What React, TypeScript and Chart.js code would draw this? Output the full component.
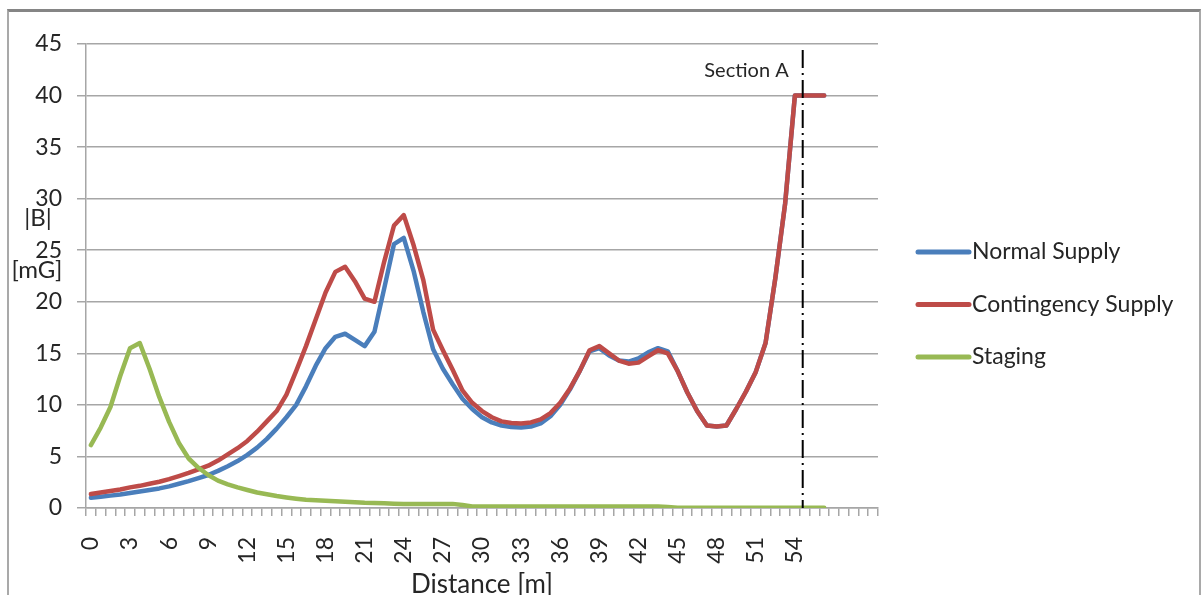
import React, { useEffect, useRef } from 'react';
import { Chart, registerables } from 'chart.js';

Chart.register(...registerables);

// ---- data ----
const distances = [
  0, 0.75, 1.5, 2.25, 3, 3.75, 4.5, 5.25, 6, 6.75, 7.5, 8.25, 9, 9.75, 10.5, 11.25,
  12, 12.75, 13.5, 14.25, 15, 15.75, 16.5, 17.25, 18, 18.75, 19.5, 20.25, 21, 21.75,
  22.5, 23.25, 24, 24.75, 25.5, 26.25, 27, 27.75, 28.5, 29.25, 30, 30.75, 31.5, 32.25,
  33, 33.75, 34.5, 35.25, 36, 36.75, 37.5, 38.25, 39, 39.75, 40.5, 41.25, 42, 42.75,
  43.5, 44.25, 45, 45.75, 46.5, 47.25, 48, 48.75, 49.5, 50.25, 51, 51.75, 52.5, 53.25,
  54, 54.75, 55.5, 56.25,
];
// empty category slots at the end of the axis (no data, no label)
const axisTailLabels = ['', '', '', '', ''];

const normalSupply = [
  1.0, 1.1, 1.2, 1.3, 1.45, 1.6, 1.75, 1.9, 2.1, 2.35, 2.6, 2.9, 3.2, 3.6, 4.05, 4.55, 5.15, 5.85, 6.7, 7.7,
  8.8, 10.0, 11.8, 13.8, 15.5, 16.6, 16.9, 16.3, 15.7, 17.1, 21.3, 25.6, 26.2, 23.0, 19.0, 15.4, 13.5, 12.0, 10.6, 9.6,
  8.8, 8.3, 8.0, 7.85, 7.8, 7.9, 8.2, 8.9, 10.0, 11.5, 13.3, 15.2, 15.5, 14.8, 14.3, 14.2, 14.5, 15.1, 15.5, 15.2,
  13.3, 11.2, 9.4, 8.0, 7.9, 8.0, 9.6, 11.3, 13.2, 16.0, 22.3, 29.5, 40, 40, 40, 40,
];

const contingencySupply = [
  1.35, 1.5, 1.65, 1.8, 2.0, 2.15, 2.35, 2.55, 2.8, 3.1, 3.4, 3.75, 4.1, 4.6, 5.2, 5.8, 6.5, 7.4, 8.4, 9.4,
  11.0, 13.3, 15.7, 18.3, 20.9, 22.9, 23.4, 22.0, 20.3, 20.0, 23.9, 27.4, 28.4, 25.5, 22.1, 17.3, 15.3, 13.4, 11.4, 10.2,
  9.4, 8.8, 8.4, 8.25, 8.2, 8.3, 8.6, 9.2, 10.2, 11.6, 13.3, 15.3, 15.7, 15.0, 14.3, 14.0, 14.1, 14.7, 15.3, 15.0,
  13.3, 11.2, 9.4, 8.0, 7.9, 8.0, 9.6, 11.3, 13.2, 16.0, 22.3, 29.5, 40, 40, 40, 40,
];

const staging = [
  6.1, 7.8, 9.8, 12.8, 15.5, 16.0, 13.5, 10.75, 8.35, 6.3, 4.8, 3.9, 3.2, 2.65, 2.3, 2.0, 1.75, 1.5, 1.33, 1.16,
  1.02, 0.9, 0.8, 0.75, 0.7, 0.65, 0.6, 0.55, 0.5, 0.48, 0.45, 0.42, 0.4, 0.4, 0.4, 0.4, 0.4, 0.4, 0.3, 0.15,
  0.15, 0.15, 0.15, 0.15, 0.15, 0.15, 0.15, 0.15, 0.15, 0.15, 0.15, 0.15, 0.15, 0.15, 0.15, 0.15, 0.15, 0.15, 0.15, 0.1,
  0.03, 0.03, 0.03, 0.03, 0.03, 0.03, 0.03, 0.03, 0.03, 0.03, 0.03, 0.03, 0.03, 0.03, 0.03, 0.03,
];

const seriesNames = ['Normal Supply', 'Contingency Supply', 'Staging'];
const seriesColors = ['#4a7ebb', '#be4b48', '#98b954'];
const yMin = 0;
const yMax = 45;
const yStep = 5;
const xLabelEvery = 3; // metres between shown tick labels
const xLabelMax = 54;
const xTitle = 'Distance [m]';
const yTitleLines = ['|B|', '[mG]'];
const sectionALabel = 'Section A';
const sectionADistance = 54.6;

// ---- style ----
const FONT = 'Lato, "Open Sans", "DejaVu Sans", sans-serif';
const TEXT = '#262626';
const GRID = '#a6a6a6';

const categoryLabels = [...distances.map((d) => String(d)), ...axisTailLabels];

function pixelForDistance(xScale: any, d: number): number {
  let i = 0;
  while (i < distances.length - 2 && distances[i + 1] <= d) i++;
  const p0 = xScale.getPixelForValue(i);
  const p1 = xScale.getPixelForValue(i + 1);
  return p0 + ((d - distances[i]) / (distances[i + 1] - distances[i])) * (p1 - p0);
}

const overlayPlugin = {
  id: 'overlay',
  afterDatasetsDraw(chart: any) {
    const { ctx, chartArea, scales } = chart;
    const x = pixelForDistance(scales.x, sectionADistance);
    ctx.save();
    ctx.strokeStyle = '#000';
    ctx.lineWidth = 2;
    ctx.setLineDash([18, 5, 2, 5]);
    ctx.beginPath();
    ctx.moveTo(x, chartArea.top + 6);
    ctx.lineTo(x, chartArea.bottom);
    ctx.stroke();
    ctx.setLineDash([]);
    ctx.fillStyle = TEXT;
    ctx.font = `20px ${FONT}`;
    ctx.textAlign = 'right';
    ctx.textBaseline = 'middle';
    ctx.fillText(sectionALabel, x - 14, chartArea.top + 27);
    ctx.restore();
  },
  afterDraw(chart: any) {
    const { ctx, chartArea } = chart;
    ctx.save();
    // y-axis title (horizontal, two lines)
    ctx.fillStyle = TEXT;
    ctx.font = `24px ${FONT}`;
    ctx.textAlign = 'center';
    ctx.textBaseline = 'middle';
    ctx.fillText(yTitleLines[0], chartArea.left - 48, 218);
    ctx.fillText(yTitleLines[1], chartArea.left - 49, 270);
    // legend
    const lx0 = chartArea.right + 40;
    const lx1 = chartArea.right + 91;
    const rowY0 = 252;
    const rowGap = 52.5;
    ctx.font = `23px ${FONT}`;
    ctx.textAlign = 'left';
    ctx.lineCap = 'round';
    seriesNames.forEach((name, i) => {
      const y = rowY0 + i * rowGap;
      ctx.strokeStyle = seriesColors[i];
      ctx.lineWidth = 5;
      ctx.beginPath();
      ctx.moveTo(lx0, y);
      ctx.lineTo(lx1, y);
      ctx.stroke();
      ctx.fillStyle = TEXT;
      ctx.fillText(name, lx1 + 3, y);
    });
    ctx.restore();
  },
};

export default function App() {
  const ref = useRef<HTMLCanvasElement>(null);

  useEffect(() => {
    if (!ref.current) return;
    const seriesData = [normalSupply, contingencySupply, staging];
    const drawOrder = [2, 1, 0];
    const chart = new Chart(ref.current, {
      type: 'line',
      data: {
        labels: categoryLabels,
        datasets: seriesNames.map((name, i) => ({
          label: name,
          data: seriesData[i],
          borderColor: seriesColors[i],
          backgroundColor: seriesColors[i],
          borderWidth: 4.5,
          pointRadius: 0,
          pointHoverRadius: 0,
          fill: false,
          tension: 0,
          borderCapStyle: 'round',
          borderJoinStyle: 'round',
          order: drawOrder[i],
        })),
      },
      options: {
        responsive: false,
        animation: false,
        layout: { padding: { left: 0, top: 44, right: 325, bottom: 0 } },
        plugins: {
          legend: { display: false },
          tooltip: { enabled: false },
          title: { display: false },
        },
        scales: {
          x: {
            type: 'category',
            offset: true,
            grid: {
              offset: true,
              drawOnChartArea: false,
              drawTicks: true,
              tickLength: 8,
              color: GRID,
              lineWidth: 1.5,
            },
            border: { display: true, color: GRID, width: 1.5 },
            ticks: {
              autoSkip: false,
              minRotation: 90,
              maxRotation: 90,
              padding: 21,
              color: TEXT,
              font: { family: FONT, size: 23 },
              callback: (_v: any, index: number) => {
                const l = categoryLabels[index];
                if (l === '') return '';
                const n = Number(l);
                return Number.isInteger(n) && n % xLabelEvery === 0 && n <= xLabelMax ? l : '';
              },
            },
            title: {
              display: true,
              text: xTitle,
              color: TEXT,
              font: { family: FONT, size: 26, lineHeight: 0.8 },
              padding: { top: 0, bottom: 0 },
            },
            afterFit: (s: any) => {
              s.height = 87;
            },
          },
          y: {
            min: yMin,
            max: yMax,
            ticks: {
              stepSize: yStep,
              padding: 15,
              color: TEXT,
              font: { family: FONT, size: 23 },
            },
            grid: { color: GRID, lineWidth: 1.5, drawTicks: true, tickLength: 9 },
            border: { display: true, color: GRID, width: 1.5 },
            afterFit: (s: any) => {
              s.width = 86;
            },
          },
        },
      },
      plugins: [overlayPlugin],
    } as any);
    return () => chart.destroy();
  }, []);

  return (
    <div
      style={{
        position: 'fixed',
        left: 0,
        top: 0,
        width: 1203,
        height: 595,
        overflow: 'hidden',
        background: '#ffffff',
      }}
    >
      <div
        style={{
          position: 'absolute',
          left: 7,
          top: 9,
          right: 2,
          height: 700,
          boxSizing: 'border-box',
          borderTop: '3px solid #858585',
          borderLeft: '2px solid #a9a9a9',
          borderRight: '2px solid #a9a9a9',
        }}
      />
      <canvas
        ref={ref}
        width={1203}
        height={595}
        style={{ position: 'absolute', left: 0, top: 0, width: 1203, height: 595 }}
      />
    </div>
  );
}
